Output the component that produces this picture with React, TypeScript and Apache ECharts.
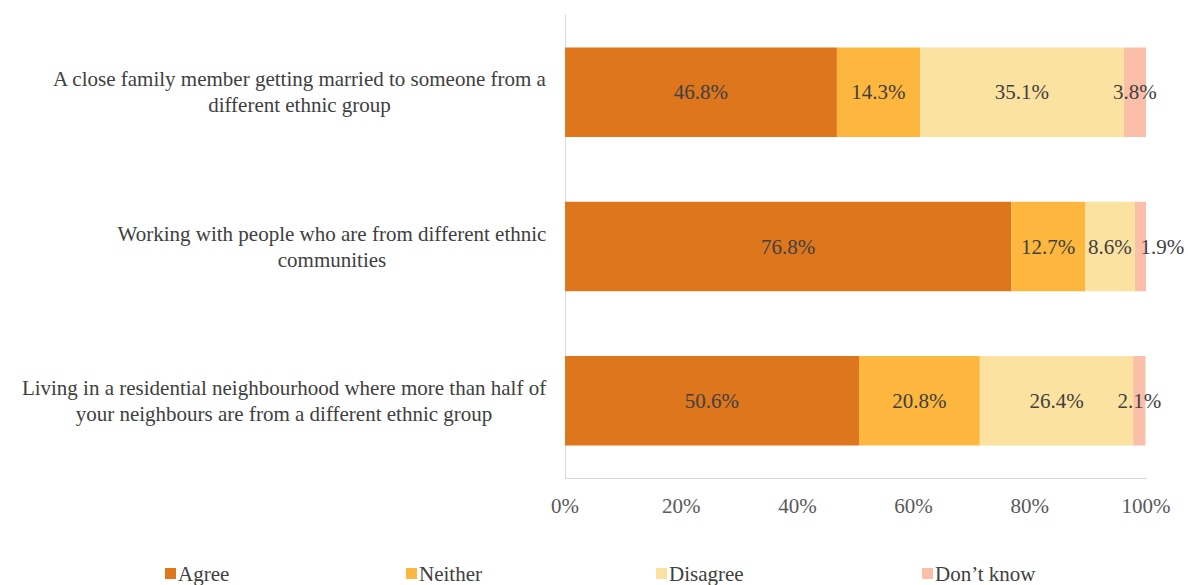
import React, { useEffect, useRef } from "react";
import * as echarts from "echarts";

const categories = [
  "A close family member getting married to someone from a\ndifferent ethnic group",
  "Working with people who are from different ethnic\ncommunities",
  "Living in a residential neighbourhood where more than half of\nyour neighbours are from a different ethnic group",
];
const seriesNames = ["Agree", "Neither", "Disagree", "Don\u2019t know"];
const agree = [46.8, 76.8, 50.6];
const neither = [14.3, 12.7, 20.8];
const disagree = [35.1, 8.6, 26.4];
const dontKnow = [3.8, 1.9, 2.1];
const xTicks = [0, 20, 40, 60, 80, 100];

const colors = ["#DE761E", "#FDB73E", "#FCE2A0", "#FBBEA8"];
const FONT = "'Liberation Serif', 'Times New Roman', serif";
const FS = 21;

function measure(text: string): number {
  const c = document.createElement("canvas");
  const ctx = c.getContext("2d")!;
  ctx.font = `${FS}px ${FONT}`;
  return Math.max(...text.split("\n").map((l) => ctx.measureText(l).width));
}

export default function App() {
  const ref = useRef<HTMLDivElement>(null);
  useEffect(() => {
    const chart = echarts.init(ref.current!, undefined, { renderer: "svg" });
    const values = [agree, neither, disagree, dontKnow];
    const legendLefts = [165, 406, 656, 922];
    const rich: any = {};
    categories.forEach((c, i) => {
      rich["c" + i] = {
        width: Math.ceil(measure(c)) + 1,
        align: "center",
        fontFamily: FONT,
        fontSize: FS,
        color: "#404040",
        lineHeight: 26,
      };
    });
    chart.setOption({
      animation: false,
      textStyle: { fontFamily: FONT },
      grid: { left: 565, right: 42, top: 15, bottom: 107, containLabel: false },
      legend: seriesNames.map((n, i) => ({
        data: [n],
        left: legendLefts[i],
        top: 563,
        itemWidth: 11,
        itemHeight: 11,
        itemGap: 0,
        icon: "rect",
        textStyle: { fontFamily: FONT, fontSize: FS, color: "#404040", padding: [0, 0, 0, -3] },
        padding: 0,
      })),
      xAxis: {
        type: "value",
        min: xTicks[0],
        max: xTicks[xTicks.length - 1],
        interval: 20,
        axisLine: { show: true, lineStyle: { color: "#D9D9D9", width: 1 } },
        axisTick: { show: false },
        splitLine: { show: false },
        axisLabel: {
          formatter: "{value}%",
          fontFamily: FONT,
          fontSize: FS,
          color: "#595959",
          margin: 17,
        },
      },
      yAxis: {
        type: "category",
        data: categories,
        inverse: true,
        axisLine: { show: true, lineStyle: { color: "#D9D9D9", width: 1 } },
        axisTick: { show: false },
        axisLabel: {
          formatter: (v: string, idx: number) =>
            v
              .split("\n")
              .map((l) => `{c${idx}|${l}}`)
              .join("\n"),
          rich,
          align: "right",
          margin: 18,
        },
      },
      series: seriesNames.map((n, i) => ({
        name: n,
        type: "bar",
        stack: "total",
        data: values[i].map((v, j) =>
          i === 3 && j === 1 ? { value: v, label: { offset: [22, 0] } } : v
        ),
        barCategoryGap: "42%",
        itemStyle: { color: colors[i] },
        label: {
          show: true,
          position: "inside",
          formatter: (p: any) => p.value.toFixed(1) + "%",
          fontFamily: FONT,
          fontSize: FS,
          color: "#404040",
        },
      })),
    });
    return () => chart.dispose();
  }, []);
  return <div ref={ref} style={{ width: 1188, height: 585, position: "absolute", left: 0, top: 0 }} />;
}
